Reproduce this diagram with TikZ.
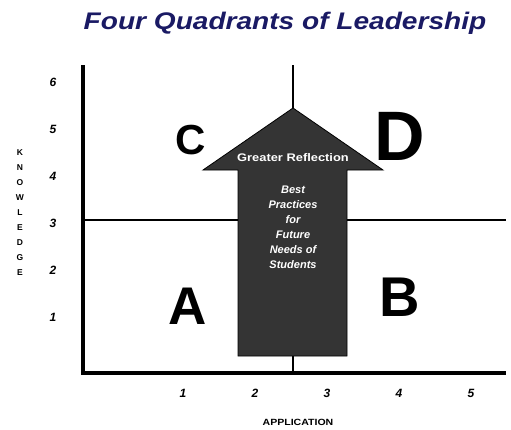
\documentclass[tikz,border=0pt]{standalone}
\usepackage{fontspec}
\setmainfont{Liberation Sans}
\usetikzlibrary{positioning}
\definecolor{titleblue}{RGB}{26,26,100}
\definecolor{arrowgray}{RGB}{52,52,52}
\newcommand{\wide}[1]{\scalebox{1.17}[1]{#1}}

\begin{document}
\begin{tikzpicture}[x=1pt,y=-1pt,
    tick/.style={font=\bfseries\itshape\fontsize{12}{14}\selectfont},
    axlabel/.style={font=\bfseries\fontsize{9}{10}\selectfont,inner sep=0pt},
    quad/.style={font=\bfseries,inner sep=0pt},
    arrowtext/.style={text=white,align=center,inner sep=0pt}]
    \useasboundingbox (0,0) rectangle (511,429);

    % Title
    \node[text=titleblue,font=\bfseries\itshape\fontsize{24}{28}\selectfont] (title) at (285,23) {\wide{Four Quadrants of Leadership}};

    % Axes and quadrant lines
    \coordinate (origin) at (83,373);
    \coordinate (ytop) at (83,65);
    \coordinate (xend) at (506,373);
    \coordinate (midl) at (83,220);
    \coordinate (midr) at (506,220);
    \coordinate (vtop) at (293,65);
    \coordinate (vbot) at (293,373);
    \draw[line width=2.7pt] (midl) -- (midr);
    \draw[line width=2.7pt] (vtop) -- (vbot);
    \draw[line width=3.2pt] (ytop) -- (origin) -- (xend);

    % Ticks
    \foreach \n in {1,...,6}
        \node[tick] (y\n) at (53,364-47*\n) {\n};
    \foreach \n in {1,...,5}
        \node[tick] (x\n) at (111+72*\n,393) {\n};
    \node[axlabel] (application) at (298,422) {\wide{APPLICATION}};
    \foreach \l [count=\i] in {K,N,O,W,L,E,D,G,E}
        \node[axlabel,font=\bfseries\fontsize{8.5}{9}\selectfont] (know\i) at (20,138+15*\i) {\l};

    % Arrow
    \coordinate (tip) at (293,108);
    \filldraw[fill=arrowgray,draw=black,line width=0.8pt] (tip) -- (383,170) -- (347,170) -- (347,356)
        -- (238,356) -- (238,170) -- (203,170) -- cycle;
    \node[arrowtext,font=\bfseries\fontsize{11}{13}\selectfont] (reflection) at (293,158) {\wide{Greater Reflection}};
    \node[arrowtext,font=\bfseries\itshape\fontsize{11}{15}\selectfont] (practices) at (293,227) {Best\\Practices\\for\\Future\\Needs of\\Students};

    % Quadrants
    \node[quad,font=\bfseries\fontsize{42}{42}\selectfont] (qc) at (191,140) {C};
    \node[quad,font=\bfseries\fontsize{70}{70}\selectfont] (qd) at (400,136) {D};
    \node[quad,font=\bfseries\fontsize{53}{53}\selectfont] (qa) at (188,306) {A};
    \node[quad,font=\bfseries\fontsize{56}{56}\selectfont] (qb) at (400,297) {B};
\end{tikzpicture}
\end{document}
